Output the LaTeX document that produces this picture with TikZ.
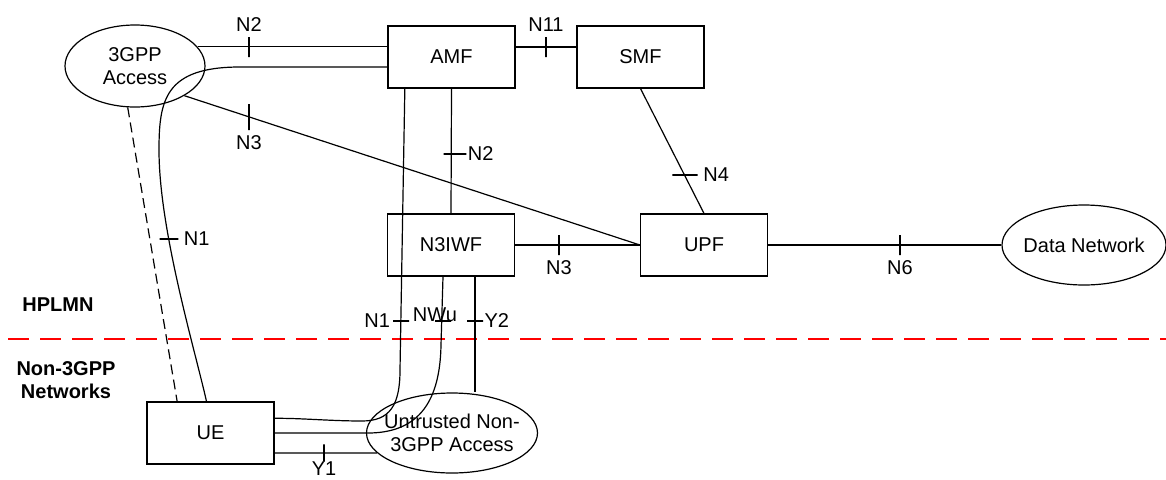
\documentclass[tikz,border=0pt]{standalone}
\usepackage{fontspec}
\setmainfont{Liberation Sans}
\usetikzlibrary{shapes.geometric}

\tikzset{
  nf/.style={draw, rectangle, minimum width=95.25pt, minimum height=46.5pt, inner sep=0pt},
  net/.style={draw, ellipse, inner sep=0pt},
  vtick/.style={draw, inner sep=0pt, minimum width=0pt, minimum height=15pt},
  htick/.style={draw, inner sep=0pt, minimum height=0pt, minimum width=15pt},
  region/.style={font=\fontsize{15}{17}\selectfont\bfseries, align=center},
  border/.style={red, line width=1.6pt, dash pattern=on 15.75pt off 8.25pt},
}

\begin{document}
\begin{tikzpicture}[x=0.75pt,y=-0.75pt,line width=0.9pt,font=\fontsize{15}{17}\selectfont]
   \useasboundingbox (0,0) rectangle (1166,479);

   % network functions
   \node[nf]      (amf)   at (451.5,57)  {AMF} ; %
   \node[nf]      (smf)   at (640.5,57)  {SMF} ; %
   \node[nf]      (n3iwf) at (451,245)   {N3IWF} ; %
   \node[nf]      (upf)   at (704,245)   {UPF} ; %
   \node[nf]      (ue)    at (210.5,433) {UE} ; %

   % access and data networks
   \node[net, minimum width=105pt, minimum height=61.5pt, align=center] (acc) at (135,66) {3GPP\\Access} ; %
   \node[net, minimum width=128.25pt, minimum height=60pt,
         label={[align=center]center:Untrusted Non-\\3GPP Access}] (untr) at (452,433) {} ; %
   \node[net, minimum width=123pt, minimum height=60pt,
         label={center:Data Network}] (dn) at (1084,245) {} ; %

   % domains
   \node[region] (hplmn) at (58,305)  {HPLMN} ; %
   \node[region] (non3)  at (66,380)  {Non-3GPP\\Networks} ; %
   \draw[border] (8,339) -- (1166,339) ;

   % reference points
   \draw (acc.17) -- (acc.17 -| amf.west) ;
   \draw ([yshift=7.5pt]amf.east) -- ([yshift=7.5pt]smf.west) ;
   \draw (acc.-31) -- (upf.west) ;
   \draw (amf.south) -- (n3iwf.north) ;
   \draw (smf.south) -- (upf.north) ;
   \draw (n3iwf.east) -- (upf.west) ;
   \draw (upf.east) -- (dn.west) ;
   \draw[dash pattern=on 7.5pt off 4pt] (acc.-100) -- ([xshift=-25pt]ue.north) ;
   \draw ([yshift=-7.5pt]amf.west) -- (240,67)
         .. controls (165,67) and (159,100) .. (159,150)
         .. controls (159,230) and (195,350) .. ([xshift=-3pt]ue.north) ;
   \draw ([xshift=-35pt]amf.south) -- (400,370)
         .. controls (400,405) and (390,421) .. (362,421)
         .. controls (330,421) and (300,418) .. ([yshift=11pt]ue.east) ;
   \draw ([xshift=-6pt]n3iwf.south) -- (441,345)
         .. controls (440,400) and (420,432) .. (370,433) -- (ue.east) ;
   \draw ([xshift=18pt]n3iwf.south) -- ([xshift=18pt]n3iwf.south |- untr.north) ;
   \draw ([yshift=-15pt]ue.east) -- (untr.195) ;

   % ticks and their labels
   \node[vtick, label=above:N2]  (t-n2a) at (249,47)  {} ; %
   \node[vtick, minimum height=19.5pt, label=below:N3] (t-n3a) at (249,117) {} ; %
   \node[vtick, label=above:N11] (t-n11) at (546,47)  {} ; %
   \node[htick, minimum width=17pt, label={[label distance=-3pt]right:N2}] (t-n2b) at (455,154) {} ; %
   \node[htick, minimum width=19pt, label=right:N4] (t-n4) at (685,175) {} ; %
   \node[htick, minimum width=14pt, label=right:N1] (t-n1a) at (169,239) {} ; %
   \node[vtick, label=below:N3]  (t-n3b) at (559,245) {} ; %
   \node[vtick, label=below:N6]  (t-n6)  at (900,245) {} ; %
   \node[htick, minimum width=12pt, label={[label distance=-2pt]left:N1}] (t-n1b) at (401,321) {} ; %
   \node[htick, minimum width=12pt, label={[label distance=-5pt,xshift=-6pt]above:NWu}] (t-nwu) at (443,321) {} ; %
   \node[htick, minimum width=12pt, label={[label distance=-3pt]right:Y2}] (t-y2) at (475,321) {} ; %
   \node[vtick, minimum height=13pt, label={[label distance=-4.5pt]below:Y1}] (t-y1) at (324,453) {} ; %

\end{tikzpicture}
\end{document}
